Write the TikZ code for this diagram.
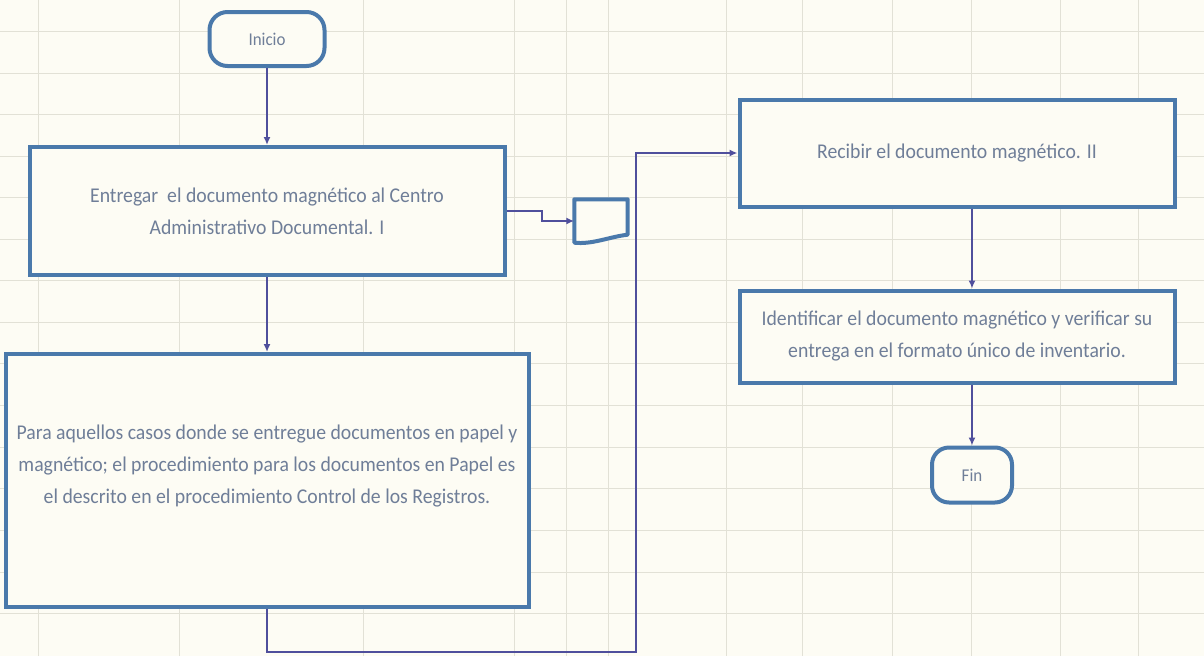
\documentclass[tikz,border=0pt]{standalone}
\usepackage{fontspec}
\setmainfont{Carlito}[FakeStretch=0.94]
\usepackage{tikz}
\usetikzlibrary{positioning}
\usetikzlibrary{arrows.meta}
\definecolor{borde}{HTML}{4A79AB}
\definecolor{linea}{HTML}{4F4F9C}
\definecolor{texto}{HTML}{6F7E98}
\definecolor{rejilla}{HTML}{E2E1D6}
\definecolor{papel}{HTML}{FDFCF4}
\tikzset{
  proc/.style={draw=borde, line width=4pt, fill=papel, align=center,
    text=texto, font=\fontsize{21}{32}\selectfont, inner sep=4pt},
  term/.style={draw=borde, line width=4pt, fill=papel, rounded corners=18pt,
    text=texto, font=\fontsize{18}{18}\selectfont, minimum width=115pt, minimum height=54pt},
  flecha/.style={draw=linea, line width=2pt, -{Latex[length=8pt,width=7pt]}},
  malla/.style={draw=rejilla, line width=0.8pt}
}

\begin{document}
\begin{tikzpicture}[x=1pt, y=1pt]
      \fill[papel] (0,0) rectangle (1204,-656);
      \useasboundingbox (0,0) rectangle (1204,-656);
      \foreach \x in {38,179,363,514,566,608,726,802,892,971,1060,1138}
        \draw[malla] (\x,0) -- (\x,-656);
      \foreach \y in {31,73,114,156,197,239,280,322,363,405,447,488,530,572,613}
        \draw[malla] (0,-\y) -- (1204,-\y);

      \node(inicio) [term] at (267,-39) {Inicio};
      \node(entrega) [proc, minimum width=475pt, minimum height=128pt, below=77pt of inicio]
        {Entregar\ \ el documento magnético al Centro\\ Administrativo Documental. I};
      \node(casos) [proc, minimum width=523pt, minimum height=253pt, below=75pt of entrega]
        {Para aquellos casos donde se entregue documentos en papel y\\
         magnético; el procedimiento para los documentos en Papel es\\
         el descrito en el procedimiento Control de los Registros.\\[0pt]};
      \node(medio) [minimum width=53pt, minimum height=43pt] at (601,-221) {};
      \node(recibir) [proc, minimum width=435pt, minimum height=107pt] at (957,-153)
        {Recibir el documento magnético. II};
      \node(identificar) [proc, minimum width=435pt, minimum height=92pt, below=80pt of recibir]
        {Identificar el documento magnético y verificar su\\ entrega en el formato único de inventario.};
      \node(fin) [term, minimum width=80pt, minimum height=55pt, rounded corners=17pt] at (972,-475) {Fin};
      \coordinate(giro) at (636,-652);

      \draw[draw=borde, line width=4pt, fill=papel, line join=round]
        (medio.north west) -- (medio.north east) -- ([yshift=8pt]medio.south east)
        .. controls ([xshift=-18pt,yshift=6pt]medio.south east) and ([xshift=18pt,yshift=-2pt]medio.south west)
        .. (medio.south west) -- cycle;

      \draw[flecha] (inicio) -- (entrega);
      \draw[flecha] (entrega) -- (casos);
      \draw[flecha] (entrega.east) -- ++(35pt,0) |- (medio.west);
      \draw[flecha] (casos.south) |- (giro) |- (recibir.west);
      \draw[flecha] ([xshift=15pt]recibir.south) -- ([xshift=15pt]identificar.north);
      \draw[flecha] ([xshift=15pt]identificar.south) -- (fin);
\end{tikzpicture}
\end{document}
